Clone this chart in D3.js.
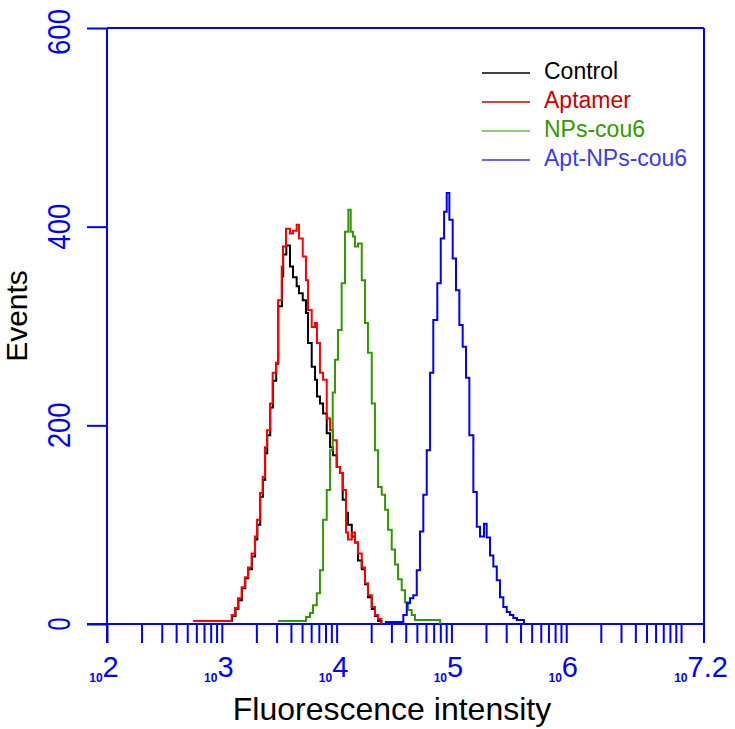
<!DOCTYPE html>
<html>
<head>
<meta charset="utf-8">
<script src="https://cdn.jsdelivr.net/npm/d3@7/dist/d3.min.js"></script>
<style>
  html, body { margin: 0; padding: 0; background: #fff; }
  svg { display: block; }
</style>
</head>
<body>
<svg id="chart" width="735" height="729"></svg>
<script>
// ---- data (log10 fluorescence intensity of each bin start, events) ----
const seriesNames = ["Control", "Aptamer", "NPs-cou6", "Apt-NPs-cou6"];

const controlExp = [2.83,3.09,3.12,3.145,3.175,3.205,3.23,3.262,3.29,3.31,3.335,3.358,3.378,3.396,3.422,3.445,3.474,3.492,3.524,3.535,3.562,3.594,3.62,3.652,3.672,3.705,3.733,3.751,3.783,3.812,3.829,3.855,3.882,3.914,3.943,3.969,4.001,4.03,4.053,4.082,4.099,4.132,4.16,4.186,4.219,4.247,4.273,4.306,4.334,4.361,4.39];
const controlEvents = [3,8,15,24,36,46,55,68,85,100,128,145,172,190,218,245,262,320,350,372,381,360,349,340,333,326,313,283,259,246,229,222,212,192,178,170,158,152,125,112,100,88,82,64,55,40,27,15,8,3,0];

const aptamerExp = [2.75,3.086,3.115,3.141,3.173,3.202,3.228,3.26,3.289,3.307,3.333,3.356,3.376,3.394,3.42,3.443,3.472,3.49,3.522,3.533,3.559,3.594,3.62,3.652,3.672,3.705,3.733,3.751,3.783,3.812,3.829,3.855,3.882,3.914,3.943,3.969,4.001,4.03,4.053,4.082,4.099,4.132,4.16,4.186,4.219,4.247,4.273,4.306,4.334,4.361,4.39];
const aptamerEvents = [3,9,16,26,37,47,57,71,88,105,132,148,178,195,222,253,263,326,360,380,398,393,396,402,388,370,346,316,299,303,283,253,246,207,195,185,158,152,135,92,85,92,82,71,57,41,29,17,9,5,0];

const npsExp = [3.49,3.733,3.768,3.794,3.827,3.855,3.882,3.914,3.943,3.966,3.986,4.012,4.044,4.073,4.102,4.123,4.143,4.16,4.186,4.219,4.247,4.273,4.306,4.334,4.361,4.393,4.422,4.448,4.48,4.509,4.535,4.567,4.596,4.622,4.654,4.683,4.901];
const npsEvents = [3,7,11,19,31,54,105,135,175,233,266,296,343,395,417,395,390,380,383,346,303,273,222,175,138,130,115,95,75,60,45,34,22,14,9,4,0];

const aptNpsExp = [4.42,4.581,4.611,4.639,4.668,4.698,4.726,4.755,4.785,4.814,4.842,4.877,4.907,4.936,4.959,4.982,5.011,5.04,5.069,5.098,5.127,5.156,5.191,5.221,5.249,5.284,5.307,5.336,5.365,5.395,5.423,5.452,5.482,5.51,5.539,5.571,5.632];
const aptNpsEvents = [2,9,21,26,29,54,93,130,175,253,306,343,388,415,434,407,368,336,301,279,248,190,133,98,88,101,87,69,58,44,27,17,12,9,6,4,0];

const yTickValues = [0, 200, 400, 600];
const xLabelExponents = ["2", "3", "4", "5", "6", "7.2"];

// ---- layout ----
const margin = { left: 107, right: 31, top: 28, bottom: 105 };
const W = 735, H = 729;
const svg = d3.select("#chart");

const x = d3.scaleLog().domain([1e2, Math.pow(10, 7.2)]).range([margin.left, W - margin.right]);
const y = d3.scaleLinear().domain([0, 600]).range([H - margin.bottom, margin.top]);

const AX = "#0000ff";
const x0 = x.range()[0], x1 = x.range()[1];
const yb = y(0), yt = y(600);
const tickLen = 19;

// frame / axes lines
svg.append("line").attr("x1", x0).attr("x2", x0).attr("y1", yt).attr("y2", yb + tickLen).attr("stroke", AX).attr("stroke-width", 2);
svg.append("line").attr("x1", x0 - 20).attr("x2", x1).attr("y1", yb).attr("y2", yb).attr("stroke", AX).attr("stroke-width", 2);
svg.append("line").attr("x1", x0).attr("x2", x1).attr("y1", yt).attr("y2", yt).attr("stroke", AX).attr("stroke-width", 2);
svg.append("line").attr("x1", x1).attr("x2", x1).attr("y1", yt).attr("y2", yb + tickLen).attr("stroke", AX).attr("stroke-width", 2);

// x ticks (log major + minor)
const xTickVals = [];
for (let k = 2; k <= 6; k++) for (let m = 1; m <= 9; m++) xTickVals.push(m * Math.pow(10, k));
xTickVals.push(1e7);
const xAxis = d3.axisBottom(x).tickValues(xTickVals).tickSize(tickLen).tickSizeOuter(0).tickFormat("");
const gx = svg.append("g").attr("transform", `translate(0,${yb})`).call(xAxis);
gx.select(".domain").remove();
gx.selectAll(".tick line").attr("stroke", AX).attr("stroke-width", 2);

// x tick labels: 10^k
xLabelExponents.forEach(e => {
  const t = svg.append("text")
    .attr("x", x(Math.pow(10, +e)) - 3)
    .attr("y", 682)
    .attr("text-anchor", "middle")
    .attr("fill", AX)
    .attr("font-family", "Liberation Sans, Arial, sans-serif");
  t.append("tspan").attr("font-size", 12).attr("font-weight", "bold").text("10");
  t.append("tspan").attr("font-size", 29).attr("dy", -5).text(e);
});

// y ticks
const yAxis = d3.axisLeft(y).tickValues(yTickValues).tickSize(20).tickSizeOuter(0).tickFormat("");
const gy = svg.append("g").attr("transform", `translate(${x0},0)`).call(yAxis);
gy.select(".domain").remove();
gy.selectAll(".tick line").attr("stroke", AX).attr("stroke-width", 2);

// y tick labels (rotated)
yTickValues.forEach(v => {
  const s = String(v);
  svg.append("text")
    .attr("transform", `translate(70,${y(v) + (v === 600 ? 4 : 0)}) rotate(-90)`)
    .attr("text-anchor", "middle")
    .attr("fill", AX)
    .attr("font-family", "Liberation Sans, Arial, sans-serif")
    .attr("font-size", 32)
    .attr("textLength", s.length === 1 ? 13 : 46)
    .attr("lengthAdjust", "spacingAndGlyphs")
    .text(s);
});

// axis titles
svg.append("text")
  .attr("transform", `translate(27,316) rotate(-90)`)
  .attr("text-anchor", "middle")
  .attr("font-family", "Liberation Sans, Arial, sans-serif")
  .attr("font-size", 30)
  .attr("fill", "#000")
  .text("Events");
svg.append("text")
  .attr("x", 392).attr("y", 720)
  .attr("text-anchor", "middle")
  .attr("font-family", "Liberation Sans, Arial, sans-serif")
  .attr("font-size", 32)
  .attr("fill", "#000")
  .text("Fluorescence intensity");

// histograms (control first, aptamer drawn over it)
const series = [
  { name: seriesNames[0], exp: controlExp, ev: controlEvents, color: "#000000" },
  { name: seriesNames[1], exp: aptamerExp, ev: aptamerEvents, color: "#ff0000" },
  { name: seriesNames[2], exp: npsExp, ev: npsEvents, color: "#339900" },
  { name: seriesNames[3], exp: aptNpsExp, ev: aptNpsEvents, color: "#0000ff" }
];
const line = d3.line()
  .x(d => x(Math.pow(10, d[0])))
  .y(d => y(d[1]))
  .curve(d3.curveStepAfter);
series.forEach(s => {
  const pts = s.exp.map((e, i) => [e, s.ev[i]]);
  svg.append("path")
    .attr("d", line(pts))
    .attr("fill", "none")
    .attr("stroke", s.color)
    .attr("stroke-width", 2);
});

// legend
const legend = [
  { name: seriesNames[0], line: "#000000", text: "#000000" },
  { name: seriesNames[1], line: "#cc0000", text: "#cc0000" },
  { name: seriesNames[2], line: "#66bb44", text: "#339900" },
  { name: seriesNames[3], line: "#3333ff", text: "#3b3bf5" }
];
legend.forEach((l, i) => {
  const ly = 73 + i * 29;
  svg.append("line").attr("x1", 482).attr("x2", 530).attr("y1", ly).attr("y2", ly)
    .attr("stroke", l.line).attr("stroke-width", 1.5);
  svg.append("text").attr("x", 544).attr("y", ly + 6)
    .attr("font-family", "Liberation Sans, Arial, sans-serif")
    .attr("font-size", 23)
    .attr("fill", l.text)
    .text(l.name);
});
</script>
</body>
</html>
